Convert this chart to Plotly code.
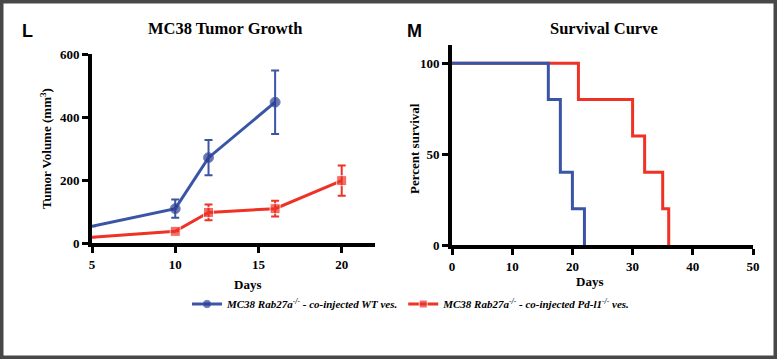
import plotly.graph_objects as go

# Tumor growth data
days_wt = [5, 10, 12, 16]
vol_wt = [53, 109, 271, 447]
err_wt = [0, 29, 56, 101]

days_pd = [5, 10, 12, 16, 20]
vol_pd = [18, 37, 97, 109, 198]
err_pd = [0, 0, 25, 25, 48]

# Survival data (step)
surv_days_wt = [0, 16, 18, 20, 22]
surv_pct_wt = [100, 80, 40, 20, 0]
surv_days_pd = [0, 21, 30, 32, 35, 36]
surv_pct_pd = [100, 80, 60, 40, 20, 0]

left_xticks = [5, 10, 15, 20]
left_yticks = [0, 200, 400, 600]
right_xticks = [0, 10, 20, 30, 40, 50]
right_yticks = [0, 50, 100]

BLUE = "#3b55a6"
BLUE_M = "#2b3a92"
RED = "#ee3226"
SERIF = "Liberation Serif"

name_wt = "<b><i>MC38 Rab27a<sup>-/-</sup> - co-injected WT ves.</i></b>"
name_pd = "<b><i>MC38 Rab27a<sup>-/-</sup> - co-injected Pd-l1<sup>-/-</sup> ves.</i></b>"

fig = go.Figure()

fig.add_trace(go.Scatter(
    x=days_wt, y=vol_wt, mode="lines+markers", name=name_wt,
    line=dict(color=BLUE, width=3),
    marker=dict(color=BLUE_M, size=[0, 10, 10, 10], symbol="circle"),
    error_y=dict(type="data", array=err_wt, color=BLUE, thickness=2, width=4),
    xaxis="x", yaxis="y", cliponaxis=False))
fig.add_trace(go.Scatter(
    x=days_pd, y=vol_pd, mode="lines+markers", name=name_pd,
    line=dict(color=RED, width=3),
    marker=dict(color=RED, size=[0, 10, 10, 10, 10], symbol="square"),
    error_y=dict(type="data", array=err_pd, color=RED, thickness=2, width=4),
    xaxis="x", yaxis="y", cliponaxis=False))

fig.add_trace(go.Scatter(
    x=surv_days_pd, y=surv_pct_pd, mode="lines", line_shape="hv",
    line=dict(color=RED, width=3), showlegend=False,
    xaxis="x2", yaxis="y2", cliponaxis=False))
fig.add_trace(go.Scatter(
    x=surv_days_wt, y=surv_pct_wt, mode="lines", line_shape="hv",
    line=dict(color=BLUE, width=3), showlegend=False,
    xaxis="x2", yaxis="y2", cliponaxis=False))

tickfont = dict(family=SERIF, size=13, color="black", weight="bold")
common = dict(showline=True, linecolor="black", linewidth=4, ticks="outside",
              ticklen=6, tickwidth=3, tickcolor="black", showgrid=False,
              zeroline=False, tickfont=tickfont, automargin=False)

fig.update_layout(
    template="none",
    width=777, height=359,
    margin=dict(l=0, r=0, t=0, b=0, pad=0, autoexpand=False),
    paper_bgcolor="white", plot_bgcolor="white",
    xaxis=dict(domain=[92/777, 375/777], range=[5, 22], tickvals=left_xticks,
               anchor="y", **common),
    yaxis=dict(domain=[(359-243)/359, (359-54)/359], range=[0, 600],
               tickvals=left_yticks, anchor="x", **common),
    xaxis2=dict(domain=[452/777, 753/777], range=[0, 50], tickvals=right_xticks,
                anchor="y2", **common),
    yaxis2=dict(domain=[(359-245)/359, (359-45)/359], range=[0, 110],
                tickvals=right_yticks, anchor="x2", **common),
    legend=dict(orientation="h", x=187/777, y=(359-304)/359, xanchor="left",
                yanchor="middle", font=dict(family=SERIF, size=11, color="black"),
                itemwidth=30, bgcolor="rgba(0,0,0,0)", borderwidth=0),
    showlegend=True,
)

def ann(text, x, y, size, family=SERIF, angle=0, bold=True):
    fig.add_annotation(text=(f"<b>{text}</b>" if bold else text), x=x/777, y=(359-y)/359,
                       xref="paper", yref="paper", showarrow=False,
                       font=dict(family=family, size=size, color="black"),
                       textangle=angle, xanchor="center", yanchor="middle")

ann("MC38 Tumor Growth", 225, 28, 16.5)
ann("Survival Curve", 604, 28, 16.5)
ann("L", 27, 31, 18, family="Liberation Sans")
ann("M", 414, 31, 18, family="Liberation Sans")
ann("Days", 247, 284, 13)
ann("Days", 589, 281, 13)
ann("Tumor Volume (mm<sup>3</sup>)", 46, 149, 13, angle=-90)
ann("Percent survival", 415, 149, 13, angle=-90)

# Outer frame
fig.add_shape(type="rect", xref="paper", yref="paper", x0=0, y0=0, x1=1, y1=1,
              line=dict(color="#484848", width=7), fillcolor="rgba(0,0,0,0)")

fig.write_html(
    "out.html",
    config={"displayModeBar": False},
    post_script=(
        "document.body.style.margin='0';"
        "document.body.style.padding='0';"
        "document.body.style.overflow='hidden';"
        "document.documentElement.style.overflow='hidden';"
    ),
)
